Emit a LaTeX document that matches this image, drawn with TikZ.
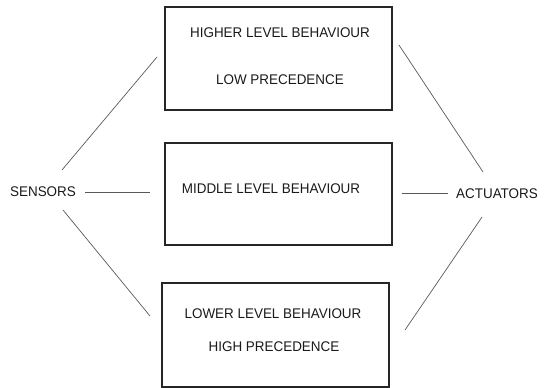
\documentclass[tikz,border=0pt]{standalone}
\usepackage{fontspec}
\setmainfont{Liberation Sans}
\begin{document}
\begin{tikzpicture}[x=1pt,y=-1pt,
  layerbox/.style={draw=black!85,line width=1.1pt,rectangle,minimum width=227pt,inner sep=0pt},
  lbl/.style={font=\fontsize{14pt}{16pt}\selectfont,inner sep=0pt,text=black!90,xscale=0.96,transform shape},
  link/.style={draw=black!65,line width=0.7pt}]
\useasboundingbox (0,0) rectangle (544,388);
% the three behaviour layers
\node[layerbox,minimum height=103pt] (top) at (278.5,58.5) {};
\node[layerbox,minimum height=102pt] (mid) at (278.5,194) {};
\node[layerbox,minimum height=104pt] (bot) at (275.5,335) {};
\node[lbl] (topA) at (280,33) {HIGHER LEVEL BEHAVIOUR};
\node[lbl] (topB) at (280,80) {LOW PRECEDENCE};
\node[lbl] (midA) at (271,189) {MIDDLE LEVEL BEHAVIOUR};
\node[lbl] (botA) at (273,314) {LOWER LEVEL BEHAVIOUR};
\node[lbl] (botB) at (274,347) {HIGH PRECEDENCE};
% inputs and outputs
\node[lbl] (sens) at (43,192) {SENSORS};
\node[lbl] (act) at (497,194) {ACTUATORS};
% connector end points
\coordinate (s1) at (62,170);  \coordinate (t1) at (157,57);
\coordinate (s2) at (85,192);  \coordinate (m1) at (150,192);
\coordinate (s3) at (63,210);  \coordinate (b1) at (150,316);
\coordinate (t2) at (399,45);  \coordinate (a1) at (483,172);
\coordinate (m2) at (402,193); \coordinate (a2) at (448,193);
\coordinate (b2) at (405,330); \coordinate (a3) at (482,217);
\draw[link] (s1) -- (t1);
\draw[link] (s2) -- (m1);
\draw[link] (s3) -- (b1);
\draw[link] (t2) -- (a1);
\draw[link] (m2) -- (a2);
\draw[link] (b2) -- (a3);
\end{tikzpicture}
\end{document}
